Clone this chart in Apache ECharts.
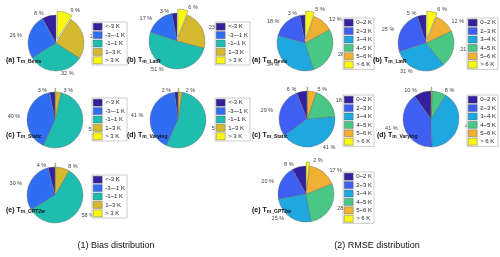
<!DOCTYPE html>
<html><head><meta charset="utf-8">
<script src="https://cdn.jsdelivr.net/npm/echarts@6/dist/echarts.min.js"></script>
<style>html,body{margin:0;padding:0;background:#fff}#c{width:500px;height:257px}</style>
</head><body><div id="c"></div>
<script>
const biasCats = ['<-3 K', '-3~-1 K', '-1~1 K', '1~3 K', '> 3 K'];
const rmseCats = ['0~2 K', '2~3 K', '3~4 K', '4~5 K', '5~6 K', '> 6 K'];
// values in percent; 0.4 stands for "<1 %"
const biasBevis   = [8, 26, 32, 25, 9];
const biasLatR    = [3, 17, 51, 23, 6];
const biasStatic  = [3, 40, 53, 3, 0.4];
const biasVarying = [2, 41, 54, 2, 0.4];
const biasGPT2w   = [4, 30, 58, 8, 0.4];
const rmseBevis   = [3, 18, 34, 28, 12, 5];
const rmseLatR    = [5, 25, 31, 21, 12, 6];
const rmseStatic  = [6, 29, 41, 18, 5, 0.4];
const rmseVarying = [10, 41, 41, 8, 0.4, 0.4];
const rmseGPT2w   = [8, 20, 25, 28, 17, 2];
const modelLetters = ['(a)', '(b)', '(c)', '(d)', '(e)'];
const modelNames = ['m_Bevis', 'm_LatR', 'm_Static', 'm_Varying', 'm_GPT2w'];
const panelTitles = ['(1) Bias distribution', '(2) RMSE distribution'];

const biasColors = ['#33209c', '#2f6ef2', '#1ebdb0', '#d4b92e', '#f9f812'];
const rmseColors = ['#33209e', '#3e5ff2', '#1fa7df', '#48c884', '#f0b132', '#f9f812'];

const biasSets = [biasBevis, biasLatR, biasStatic, biasVarying, biasGPT2w];
const rmseSets = [rmseBevis, rmseLatR, rmseStatic, rmseVarying, rmseGPT2w];

const biasLayout = [
  {c: [56, 43], lg: [92, 22], tx: [6, 62]},
  {c: [177, 41], lg: [215, 22], tx: [127, 62]},
  {c: [55, 120], lg: [92, 98], tx: [6, 137]},
  {c: [178, 120], lg: [215, 98], tx: [127, 137]},
  {c: [55, 195], lg: [92, 175], tx: [6, 212]}
];
const rmseLayout = [
  {c: [305, 43], lg: [343, 18], tx: [252, 62]},
  {c: [426, 43], lg: [467, 18], tx: [373, 62]},
  {c: [307, 119], lg: [343, 95], tx: [252, 137]},
  {c: [431, 119], lg: [467, 95], tx: [377, 137]},
  {c: [306, 194], lg: [343, 172], tx: [252, 212]}
];

const FONT = 'Liberation Sans, Arial, sans-serif';
const series = [], legends = [], graphics = [];

function fmt(p) { return p.value < 1 ? '<1%' : p.value + ' %'; }

function addPanel(sets, cats, colors, layout) {
  sets.forEach((vals, i) => {
    const L = layout[i];
    series.push({
      type: 'pie', center: L.c, radius: 28, clockwise: false, startAngle: 90,
      selectedMode: 'single', selectedOffset: 4, avoidLabelOverlap: false,
      silent: true, animation: false,
      label: {position: 'outside', fontSize: 5.5, color: '#444', fontFamily: FONT, formatter: fmt},
      labelLine: {show: false, length: 2, length2: 0},
      itemStyle: {borderColor: '#666', borderWidth: 0.4},
      data: vals.map((v, k) => ({name: cats[k], value: v, selected: k === cats.length - 1,
        itemStyle: {color: colors[k]}}))
    });
    legends.push({
      orient: 'vertical', left: L.lg[0], top: L.lg[1], itemWidth: 9, itemHeight: 7, itemGap: 1,
      icon: 'rect', selectedMode: false, data: cats,
      borderColor: '#999', borderWidth: 0.5, padding: [1, 2, 1, 1], backgroundColor: '#fff',
      textStyle: {fontSize: 6, color: '#222', fontFamily: FONT, padding: [0, 0, 0, -2]},
      itemStyle: {borderColor: '#555', borderWidth: 0.4}
    });
    graphics.push({
      type: 'text', left: L.tx[0], top: L.tx[1] - 5, z: 100,
      style: {
        text: '{a|' + modelLetters[i] + ' T}{s|' + modelNames[i] + '}',
        rich: {
          a: {fontSize: 7, fontWeight: 'bold', fontFamily: FONT, fill: '#111', verticalAlign: 'bottom', lineHeight: 10},
          s: {fontSize: 5, fontWeight: 'bold', fontFamily: FONT, fill: '#111', verticalAlign: 'bottom', lineHeight: 8}
        }
      }
    });
  });
}
addPanel(biasSets, biasCats, biasColors, biasLayout);
addPanel(rmseSets, rmseCats, rmseColors, rmseLayout);

graphics.push({type: 'text', x: 116, y: 246, z: 100,
  style: {text: panelTitles[0], fontSize: 9, fontFamily: FONT, fill: '#111', align: 'center', verticalAlign: 'middle'}});
graphics.push({type: 'text', x: 377, y: 246, z: 100,
  style: {text: panelTitles[1], fontSize: 9, fontFamily: FONT, fill: '#111', align: 'center', verticalAlign: 'middle'}});

const chart = echarts.init(document.getElementById('c'), null, {renderer: 'canvas'});
chart.setOption({animation: false, backgroundColor: '#fff', legend: legends, series: series, graphic: graphics});
</script></body></html>
